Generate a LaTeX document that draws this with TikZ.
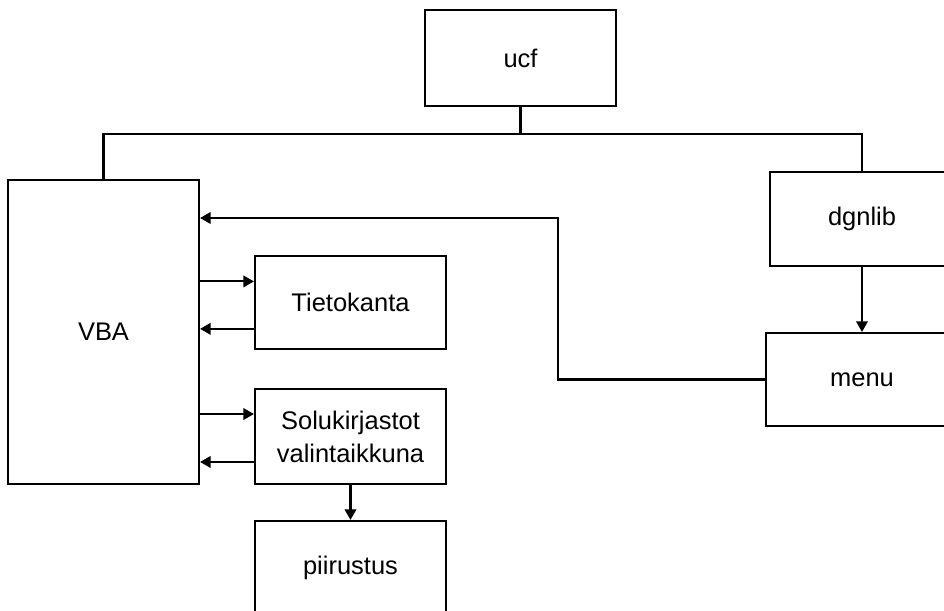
\documentclass[tikz,border=0pt]{standalone}
\usepackage{fontspec}
\setmainfont{Liberation Sans}
\usetikzlibrary{positioning}
\usetikzlibrary{arrows.meta}

\tikzset{
    block/.style={draw, line width=1.2pt, align=center, inner sep=0pt,
                  font=\fontsize{14.5}{18.7}\selectfont},
    link/.style={line width=1.2pt},
    arr/.style={line width=1.2pt, -{Triangle[length=6pt, width=6.5pt]}}
}

\begin{document}
\begin{tikzpicture}[x=0.02cm, y=-0.02cm]
    \useasboundingbox (0, 0) rectangle (944, 611);
    \clip (0, 0) rectangle (944, 611);

    % Blocks
    \node[block, minimum width=191*0.02cm, minimum height=96*0.02cm] (ucf) at (520.5, 58) {ucf};
    \node[block, minimum width=191*0.02cm, minimum height=304*0.02cm] (vba) at (103.5, 332) {VBA};
    \node[block, minimum width=184*0.02cm, minimum height=94*0.02cm] (dgnlib) at (862, 219) {dgnlib};
    \node[block, minimum width=192*0.02cm, minimum height=93*0.02cm] (menu) at (862, 379.5) {menu};
    \node[block, minimum width=191*0.02cm, minimum height=93*0.02cm] (tieto) at (350.5, 302.5) {Tietokanta};
    \node[block, minimum width=191*0.02cm, minimum height=95*0.02cm] (solu) at (350.5, 436.5) {Solukirjastot\\valintaikkuna};
    \node[block, minimum width=191*0.02cm, minimum height=94*0.02cm] (piir) at (350.5, 568) {piirustus};

    % Tree from ucf
    \coordinate (bus) at (520.5, 134);
    \draw[link] (ucf.south) -- (bus) -| (vba.north);
    \draw[link] (bus) -| (dgnlib.north);
    \draw[arr] (dgnlib.south) -- (menu.north);

    % menu back to VBA
    \coordinate (turn) at (558, 218);
    \draw[arr] (menu.west) -| (turn) -- (vba.east |- turn);

    % VBA <-> Tietokanta
    \coordinate (t1) at ([yshift=12pt]tieto.west);
    \coordinate (t2) at ([yshift=-15pt]tieto.west);
    \draw[arr] (vba.east |- t1) -- (t1);
    \draw[arr] (t2) -- (vba.east |- t2);

    % VBA <-> Solukirjastot
    \coordinate (s1) at ([yshift=12.8pt]solu.west);
    \coordinate (s2) at ([yshift=-14.5pt]solu.west);
    \draw[arr] (vba.east |- s1) -- (s1);
    \draw[arr] (s2) -- (vba.east |- s2);

    \draw[arr] (solu.south) -- (piir.north);
\end{tikzpicture}
\end{document}
